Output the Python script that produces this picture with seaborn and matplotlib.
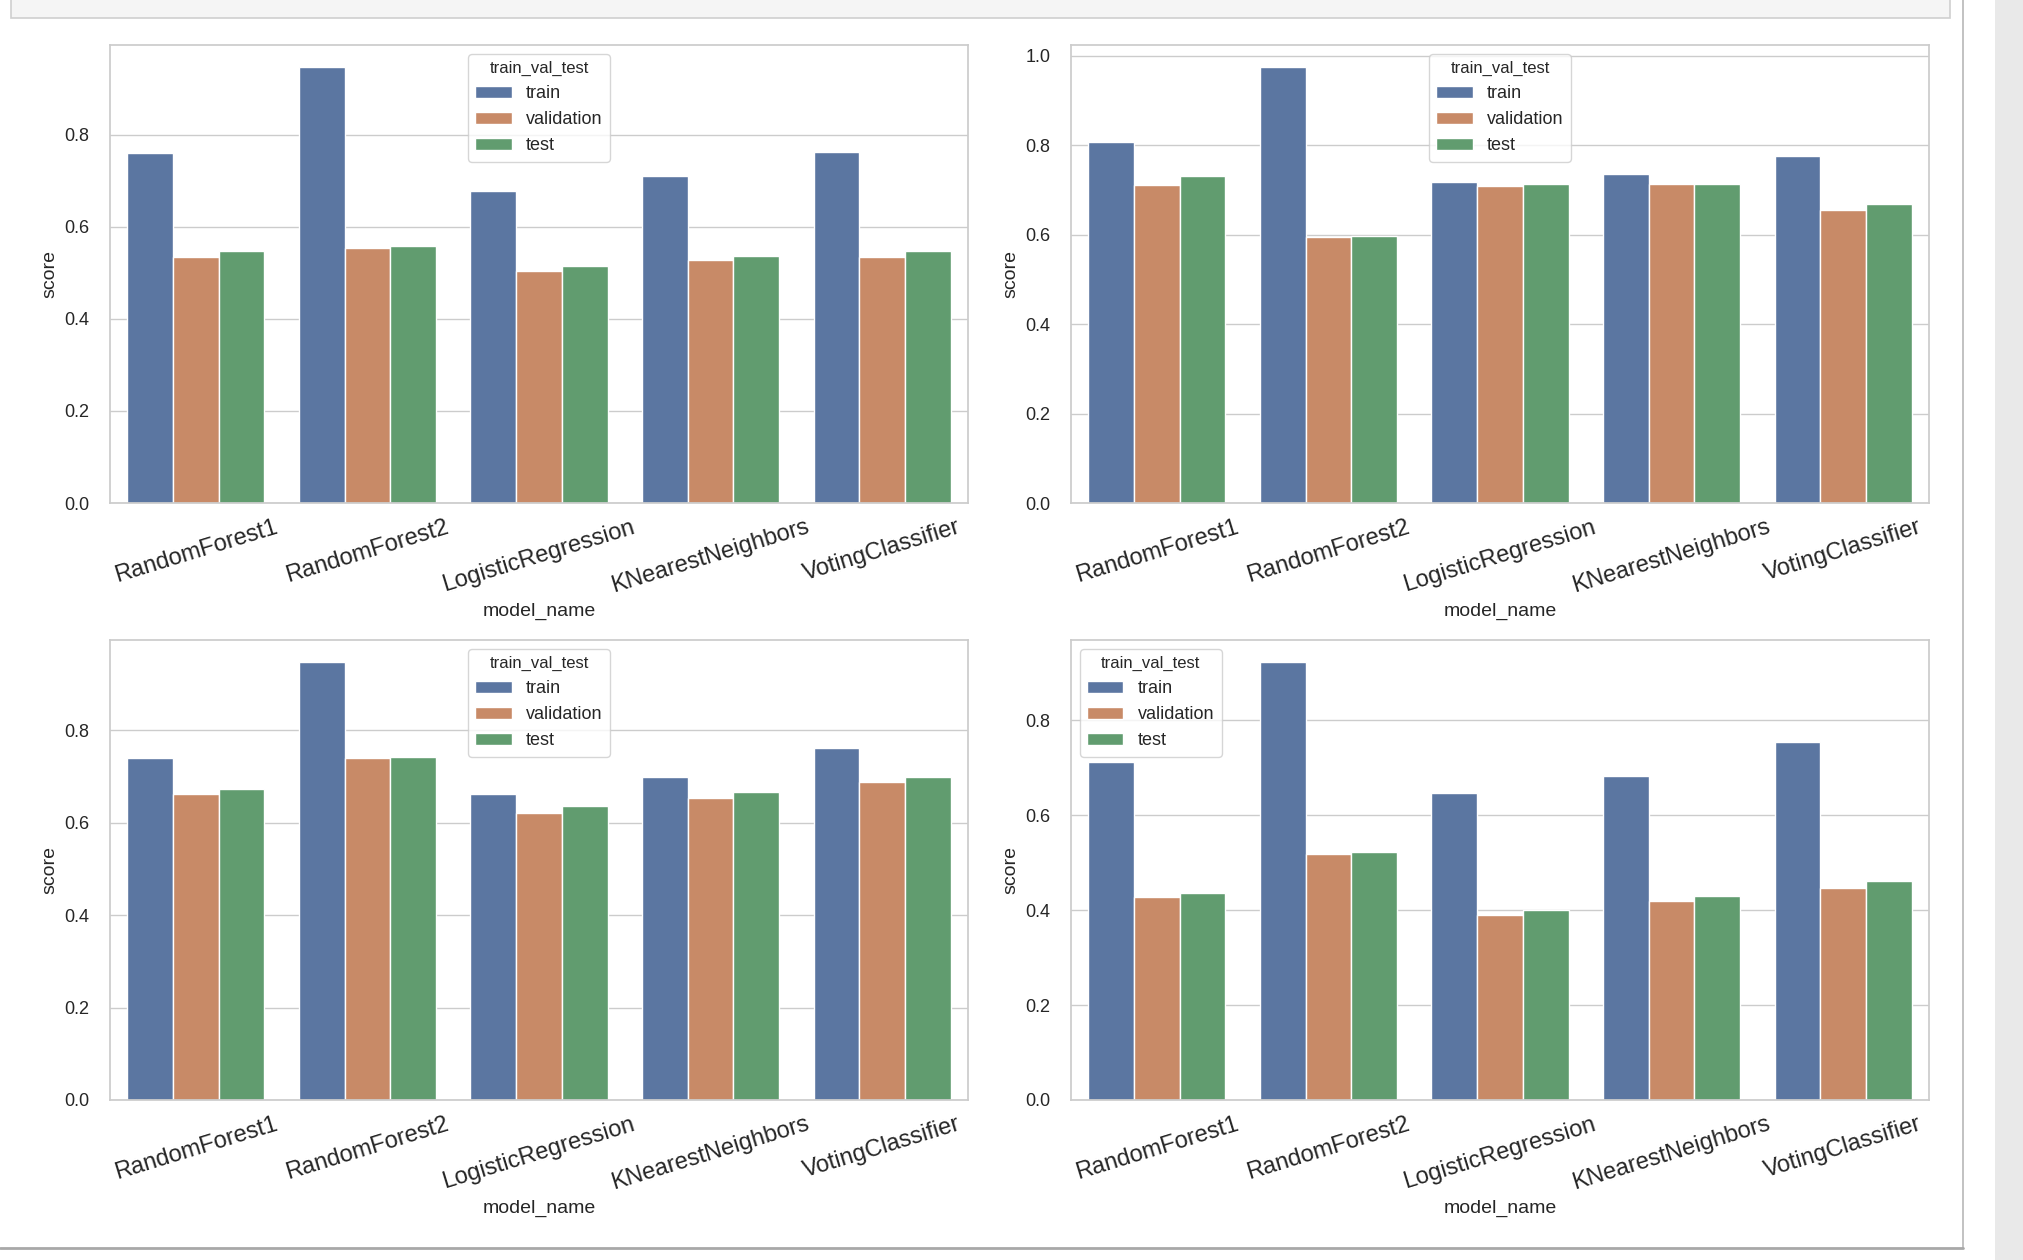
import pandas as pd
import seaborn as sns
import matplotlib.pyplot as plt
from matplotlib.patches import Rectangle
from matplotlib.lines import Line2D

# categories
models = ["RandomForest1", "RandomForest2", "LogisticRegression",
          "KNearestNeighbors", "VotingClassifier"]
splits = ["train", "validation", "test"]

# scores, one set per panel
tl_train = [0.759, 0.947, 0.678, 0.709, 0.762]
tl_val = [0.533, 0.554, 0.503, 0.528, 0.533]
tl_test = [0.547, 0.557, 0.515, 0.536, 0.547]

tr_train = [0.807, 0.975, 0.718, 0.736, 0.775]
tr_val = [0.710, 0.594, 0.708, 0.714, 0.654]
tr_test = [0.730, 0.597, 0.714, 0.714, 0.669]

bl_train = [0.741, 0.948, 0.662, 0.699, 0.761]
bl_val = [0.662, 0.739, 0.622, 0.654, 0.688]
bl_test = [0.674, 0.742, 0.636, 0.666, 0.698]

br_train = [0.713, 0.923, 0.647, 0.683, 0.754]
br_val = [0.427, 0.518, 0.390, 0.419, 0.447]
br_test = [0.437, 0.522, 0.400, 0.429, 0.462]


def make_df(train, val, test):
    rows = []
    for split, vals in zip(splits, [train, val, test]):
        for m, v in zip(models, vals):
            rows.append({"model_name": m, "train_val_test": split, "score": v})
    return pd.DataFrame(rows)


panels = [
    (make_df(tl_train, tl_val, tl_test), "upper center"),
    (make_df(tr_train, tr_val, tr_test), "upper center"),
    (make_df(bl_train, bl_val, bl_test), "upper center"),
    (make_df(br_train, br_val, br_test), "upper left"),
]

sns.set_theme(style="whitegrid")
plt.rcParams["font.family"] = ["Liberation Sans", "DejaVu Sans"]
plt.rcParams["ytick.labelsize"] = 13
plt.rcParams["ytick.major.pad"] = 9
plt.rcParams["axes.labelsize"] = 14

W, H = 2024, 1260
fig = plt.figure(figsize=(W / 100, H / 100), dpi=100)


def px_rect(x0, y0, x1, y1):
    # pixel box (top-left origin) -> figure fractions
    return [x0 / W, 1 - y1 / H, (x1 - x0) / W, (y1 - y0) / H]


# notebook frame bits around the output
fig.add_artist(Rectangle((11 / W, 1 - 18 / H), (1950 - 11) / W, 30 / H,
                         transform=fig.transFigure, facecolor="#f5f5f5",
                         edgecolor="#cfcfcf", lw=1.2))
fig.add_artist(Rectangle((1995 / W, 0), 29 / W, 1, transform=fig.transFigure,
                         facecolor="#e9e9e9", edgecolor="none"))
fig.add_artist(Line2D([1963 / W, 1963 / W], [1 - 1248 / H, 1],
                      transform=fig.transFigure, color="#b8b8b8", lw=1.2))
fig.add_artist(Line2D([0, 1963 / W], [1 - 1248 / H, 1 - 1248 / H],
                      transform=fig.transFigure, color="#a8a8a8", lw=2))

boxes = [
    px_rect(110, 45, 968, 503),
    px_rect(1071, 45, 1929, 503),
    px_rect(110, 640, 968, 1100),
    px_rect(1071, 640, 1929, 1100),
]

for (df, loc), box in zip(panels, boxes):
    ax = fig.add_axes(box)
    sns.barplot(data=df, x="model_name", y="score", hue="train_val_test",
                saturation=0.7, ax=ax)
    ax.tick_params(axis="x", labelrotation=17, labelsize=17)
    sns.move_legend(ax, loc, title="train_val_test", fontsize=13,
                    title_fontsize=12)

plt.savefig("out.png", dpi=100)
